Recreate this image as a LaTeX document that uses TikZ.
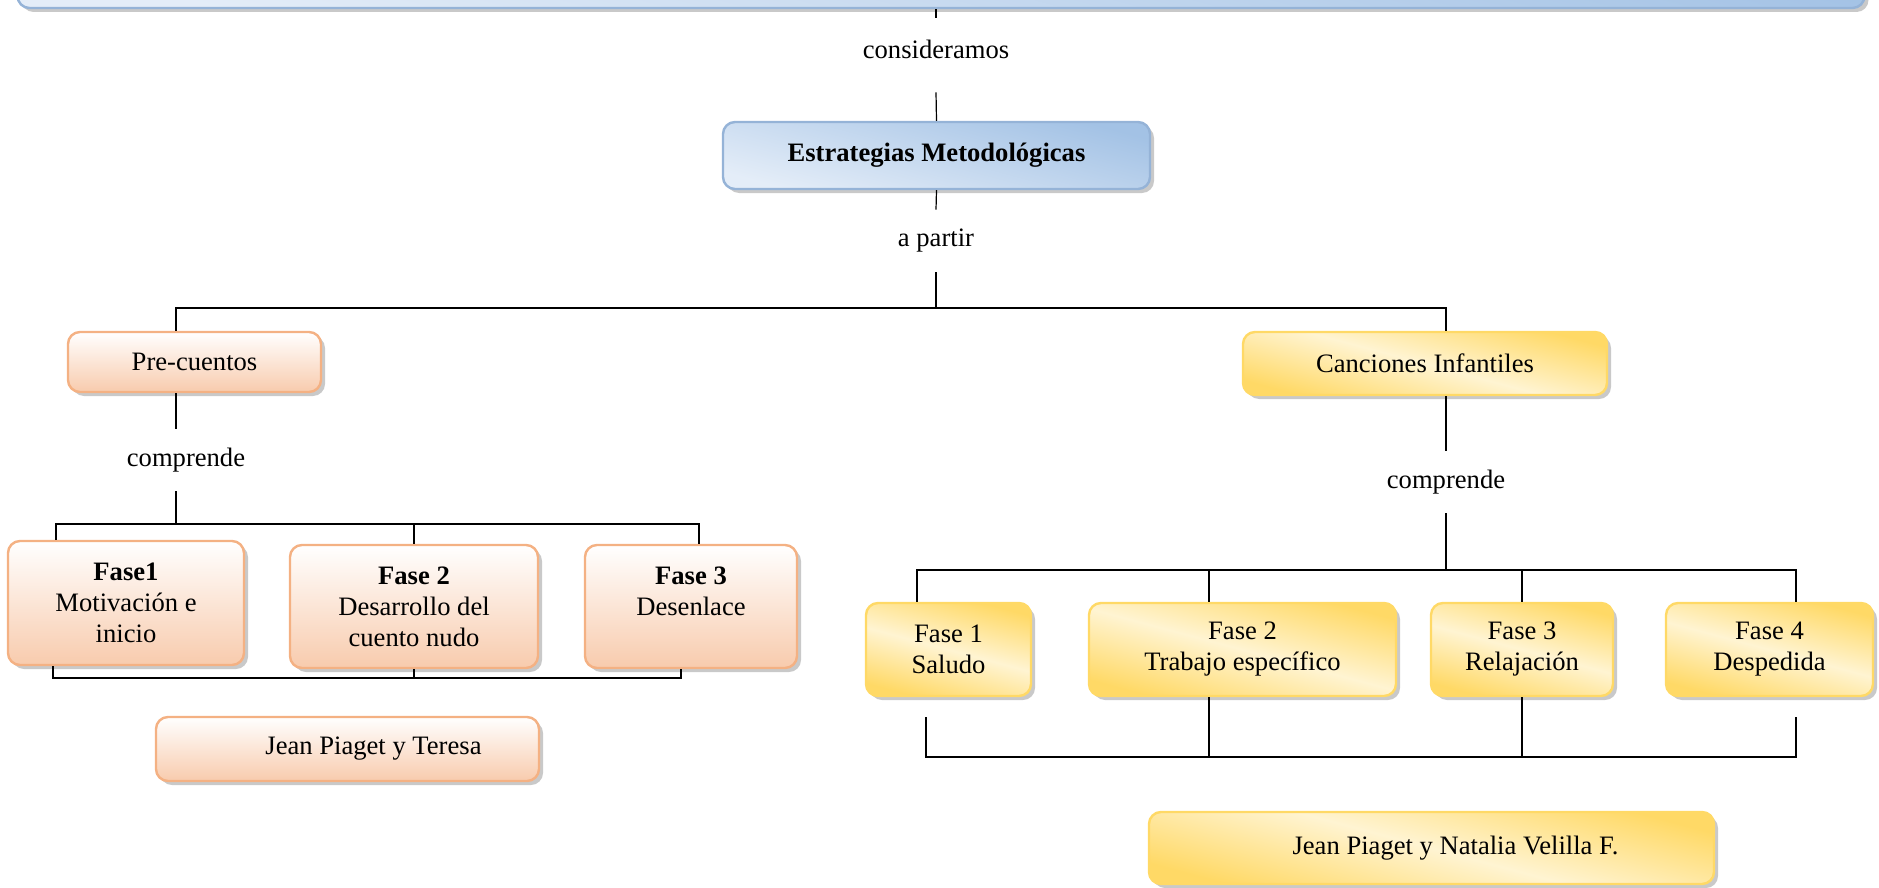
\documentclass[tikz,border=0pt]{standalone}
\usepackage{fontspec}
\setmainfont{Liberation Serif}
\usetikzlibrary{positioning,shadows,calc}
\definecolor{azulborde}{HTML}{95B3D7}
\definecolor{azuloscuro}{HTML}{A3C2E5}
\definecolor{azulclaro}{HTML}{E4EDF8}
\definecolor{naranjaborde}{HTML}{F4B183}
\definecolor{naranjafondo}{HTML}{F8CBAD}
\definecolor{amarilloborde}{HTML}{FFD966}
\definecolor{amarillofondo}{HTML}{FFF4D2}

\begin{document}
\begin{tikzpicture}[x=0.5pt, y=-0.5pt,
  font=\fontsize{13.3}{15.5}\selectfont,
  caja/.style={rounded corners=6pt, line width=1.2pt, align=center, inner sep=2pt,
    drop shadow={shadow xshift=2pt, shadow yshift=-2pt, opacity=0.3, fill=black!70}},
  azul/.style={caja, draw=azulborde, top color=azuloscuro, bottom color=azulclaro, shading angle=-15},
  naranja/.style={caja, draw=naranjaborde, top color=white, bottom color=naranjafondo},
  amarillo/.style={caja, draw=amarilloborde, top color=amarilloborde,
    bottom color=amarilloborde, middle color=amarillofondo, shading angle=-15},
  enlace/.style={minimum height=31pt, inner sep=0pt},
  linea/.style={line width=0.6pt}]
  \useasboundingbox (0,0) rectangle (1879,888);

  \node[azul, minimum width=923.5pt, minimum height=33pt] (marco) at (941,-25) {};
  \node[enlace] (consid) at (936,49) {consideramos};
  \node[azul, minimum width=213.5pt, minimum height=33.5pt] (estr) at (936.5,155.5) {\textbf{Estrategias Metodológicas}};
  \node[enlace] (apartir) at (936,241) {a partir};

  \node[naranja, minimum width=126.5pt, minimum height=30pt] (pre) at (194.5,362) {Pre-cuentos};
  \node[amarillo, minimum width=182pt, minimum height=31.5pt] (canc) at (1425,363.5) {Canciones Infantiles};
  \node[enlace] (compL) at (186,460) {comprende};
  \node[enlace] (compR) at (1446,482) {comprende};

  \node[naranja, minimum width=118pt, minimum height=62pt] (faseL1) at (126,603) {\textbf{Fase1}\\Motivación e\\inicio};
  \node[naranja, minimum width=124pt, minimum height=61.5pt] (faseL2) at (414,606.5) {\textbf{Fase 2}\\Desarrollo del\\cuento nudo};
  \node[naranja, minimum width=106pt, minimum height=61.5pt] (faseL3) at (691,606.5) {\textbf{Fase 3}\\Desenlace\\\mbox{}};
  \node[naranja, minimum width=191.5pt, minimum height=32pt] (autL) at (347.5,749) {\hspace*{26pt}Jean Piaget y Teresa};

  \foreach \n/\x/\w/\t in {faseR1/948.5/82.5/{Fase 1\\Saludo},
      faseR2/1242.5/153.5/{Fase 2\\Trabajo específico},
      faseR3/1522/91/{Fase 3\\Relajación},
      faseR4/1769.5/103.5/{Fase 4\\Despedida}}
    \node[amarillo, minimum width=\w pt, minimum height=46.5pt] (\n) at (\x,649.5) {\t};
  \node[amarillo, minimum width=282.5pt, minimum height=36pt] (autR) at (1431.5,848) {\hspace*{24pt}Jean Piaget y Natalia Velilla F.};

  \coordinate (busA) at (936,308);
  \coordinate (busAizq) at (176,308);
  \coordinate (busAder) at (1446,308);
  \coordinate (bB1) at (56,524);
  \coordinate (bB2) at (699,524);
  \coordinate (bC1) at (53,678);
  \coordinate (bC2) at (681,678);
  \coordinate (bD1) at (917,570);
  \coordinate (bD2) at (1796,570);
  \coordinate (bD3) at (1209,570);
  \coordinate (bD4) at (1522,570);
  \coordinate (bE1) at (926,757);
  \coordinate (bE2) at (1796,757);
  \coordinate (bE3) at (1209,757);
  \coordinate (bE4) at (1522,757);

  \draw[linea] (consid.north |- marco.south) -- (consid.north);
  \draw[linea] (consid.south) ++(0,12) -- (estr.north);
  \draw[linea] (estr.south) -- (apartir.north);
  \draw[linea] (apartir.south) -- (busA);
  \draw[linea] (busAizq |- pre.north) -- (busAizq) -- (busAder) -- (busAder |- canc.north);

  \draw[linea] (busAizq |- pre.south) -- (busAizq |- compL.north);
  \draw[linea] (busAizq |- compL.south) -- (busAizq |- bB1);
  \draw[linea] (bB1 |- faseL1.north) -- (bB1) -- (bB2) -- (bB2 |- faseL3.north);
  \draw[linea] (faseL2.north) -- (faseL2.north |- bB1);
  \draw[linea] (bC1 |- faseL1.south) -- (bC1) -- (bC2) -- (bC2 |- faseL3.south);
  \draw[linea] (faseL2.south) -- (faseL2.south |- bC1);

  \draw[linea] (busAder |- canc.south) -- (busAder |- compR.north);
  \draw[linea] (busAder |- compR.south) -- (busAder |- bD1);
  \draw[linea] (bD1 |- faseR1.north) -- (bD1) -- (bD2) -- (bD2 |- faseR4.north);
  \draw[linea] (bD3) -- (bD3 |- faseR2.north);
  \draw[linea] (bD4) -- (bD4 |- faseR3.north);
  \draw[linea] (bE1) ++(0,-40) -- (bE1) -- (bE2) -- ++(0,-40);
  \draw[linea] (bE3 |- faseR2.south) -- (bE3);
  \draw[linea] (bE4 |- faseR3.south) -- (bE4);
\end{tikzpicture}
\end{document}
